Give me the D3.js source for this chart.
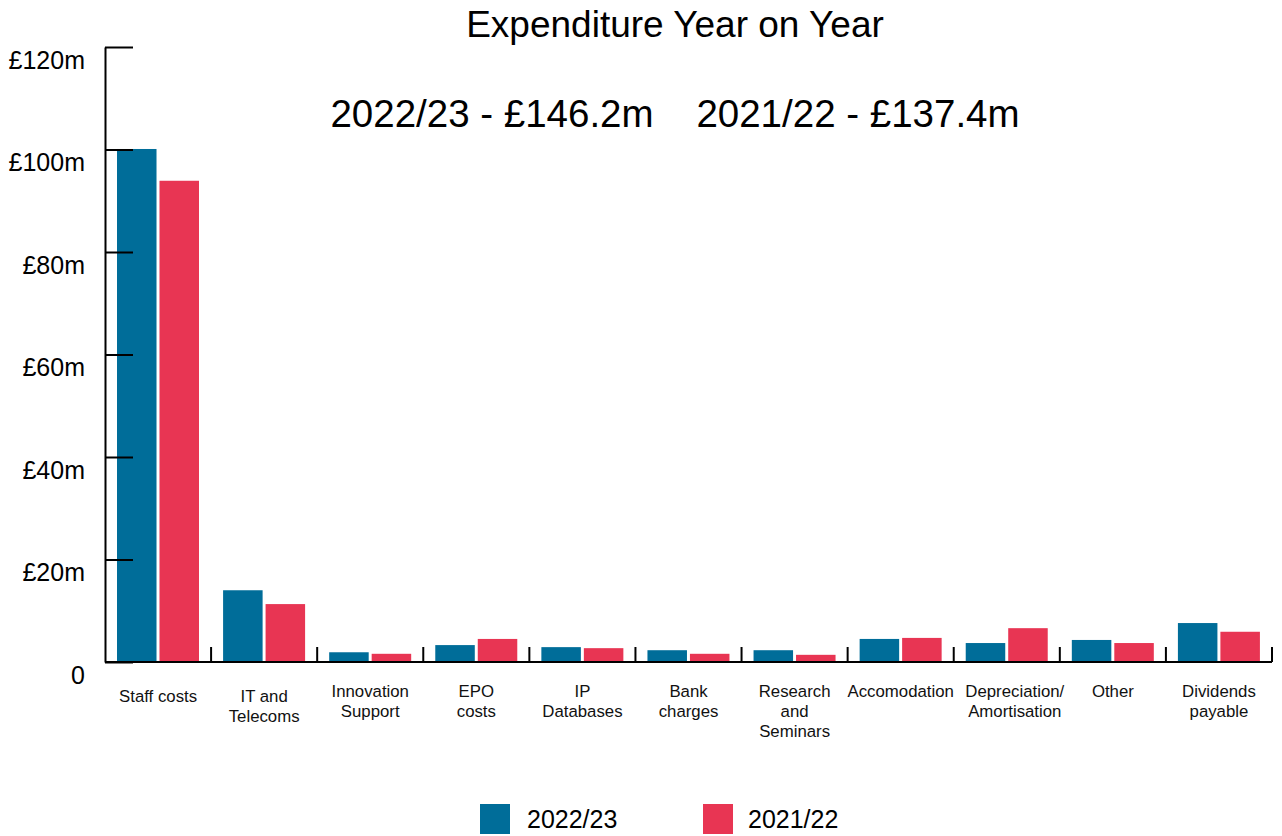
<!DOCTYPE html>
<html>
<head>
<meta charset="utf-8">
<script src="https://cdn.jsdelivr.net/npm/d3@7"></script>
<style>
  html, body { margin: 0; padding: 0; background: #fff; }
  svg { display: block; font-family: "Liberation Sans", Arial, Helvetica, sans-serif; }
</style>
</head>
<body>
<svg id="chart" width="1282" height="836"></svg>
<script>
// Expenditure by category, £m
const categories = [
  ["Staff costs"],
  ["IT and", "Telecoms"],
  ["Innovation", "Support"],
  ["EPO", "costs"],
  ["IP", "Databases"],
  ["Bank", "charges"],
  ["Research", "and", "Seminars"],
  ["Accomodation"],
  ["Depreciation/", "Amortisation"],
  ["Other"],
  ["Dividends", "payable"]
];
const seriesNames = ["2022/23", "2021/22"];
const values2223 = [100.1, 14.0, 1.9, 3.3, 2.9, 2.3, 2.3, 4.5, 3.7, 4.3, 7.6];
const values2122 = [93.9, 11.3, 1.6, 4.5, 2.7, 1.6, 1.4, 4.7, 6.6, 3.7, 5.9];
const totals = ["£146.2m", "£137.4m"];
const yTicks = [0, 20, 40, 60, 80, 100, 120];

const colors = ["#006d99", "#e83553"];
const svg = d3.select("#chart");

const plotLeft = 105, plotRight = 1272, plotTop = 47, plotBase = 662;

const keys = categories.map((c, i) => "c" + i);
const x0 = d3.scaleBand().domain(keys).range([plotLeft, plotRight]).padding(0);
const x1 = d3.scaleBand().domain(seriesNames).range([12, 94]).paddingInner(0.07);
const y = d3.scaleLinear().domain([0, 120]).range([plotBase, plotTop]);

const series = [values2223, values2122];

// Bars
const groups = svg.append("g").selectAll("g")
  .data(keys)
  .join("g")
  .attr("transform", d => `translate(${x0(d)},0)`);

groups.selectAll("rect")
  .data((d, i) => seriesNames.map((s, j) => ({ s, v: series[j][i], j })))
  .join("rect")
  .attr("x", d => x1(d.s))
  .attr("width", x1.bandwidth())
  .attr("y", d => y(d.v))
  .attr("height", d => y(0) - y(d.v))
  .attr("fill", d => colors[d.j]);

// Y axis
const yAxis = d3.axisLeft(y)
  .tickValues(yTicks)
  .tickSizeInner(-28)
  .tickSizeOuter(0)
  .tickPadding(20)
  .tickFormat(v => v === 0 ? "0" : "£" + v + "m");

const gy = svg.append("g")
  .attr("transform", `translate(${plotLeft},0)`)
  .call(yAxis);
gy.select(".domain").attr("stroke", "#000").attr("stroke-width", 2);
gy.selectAll(".tick line").attr("stroke", "#000").attr("stroke-width", 2);
gy.selectAll(".tick text")
  .attr("font-size", 25)
  .attr("fill", "#000")
  .attr("dy", "0.84em")
  .style("font-family", "'Liberation Sans', Arial, sans-serif");

// X axis baseline and boundary ticks
const gx = svg.append("g");
gx.append("line")
  .attr("x1", plotLeft).attr("x2", plotRight)
  .attr("y1", y(0)).attr("y2", y(0))
  .attr("stroke", "#000").attr("stroke-width", 2);
gx.selectAll("line.tick")
  .data(keys)
  .join("line")
  .attr("class", "tick")
  .attr("x1", d => x0(d) + x0.bandwidth())
  .attr("x2", d => x0(d) + x0.bandwidth())
  .attr("y1", y(0))
  .attr("y2", y(0) - 15)
  .attr("stroke", "#000").attr("stroke-width", 2);

// Category labels
const labels = gx.selectAll("text.cat")
  .data(categories)
  .join("text")
  .attr("class", "cat")
  .attr("text-anchor", "middle")
  .attr("font-size", 16.8)
  .attr("fill", "#111")
  .attr("transform", (d, i) => `translate(${x0(keys[i]) + x0.bandwidth() / 2 + (i === 8 ? 8 : 0)},${y(0) + (i < 2 ? 40 : 35)})`);
labels.selectAll("tspan")
  .data(d => d)
  .join("tspan")
  .attr("x", 0)
  .attr("dy", (d, i) => i === 0 ? 0 : 20)
  .text(d => d);

// Title and totals
svg.append("text")
  .attr("x", 675).attr("y", 37)
  .attr("text-anchor", "middle")
  .attr("font-size", 37)
  .attr("fill", "#000")
  .text("Expenditure Year on Year");

svg.append("text")
  .attr("x", 675).attr("y", 127)
  .attr("text-anchor", "middle")
  .attr("font-size", 38.5)
  .attr("fill", "#000")
  .style("white-space", "pre")
  .text(`${seriesNames[0]} - ${totals[0]}    ${seriesNames[1]} - ${totals[1]}`);

// Legend
const legendX = [480, 703];
const legend = svg.append("g").selectAll("g")
  .data(seriesNames)
  .join("g")
  .attr("transform", (d, i) => `translate(${legendX[i]},804)`);
legend.append("rect")
  .attr("width", 30).attr("height", 30)
  .attr("fill", (d, i) => colors[i]);
legend.append("text")
  .attr("x", (d, i) => i === 0 ? 47 : 45)
  .attr("y", 24)
  .attr("font-size", 25)
  .attr("fill", "#000")
  .text(d => d);
</script>
</body>
</html>
